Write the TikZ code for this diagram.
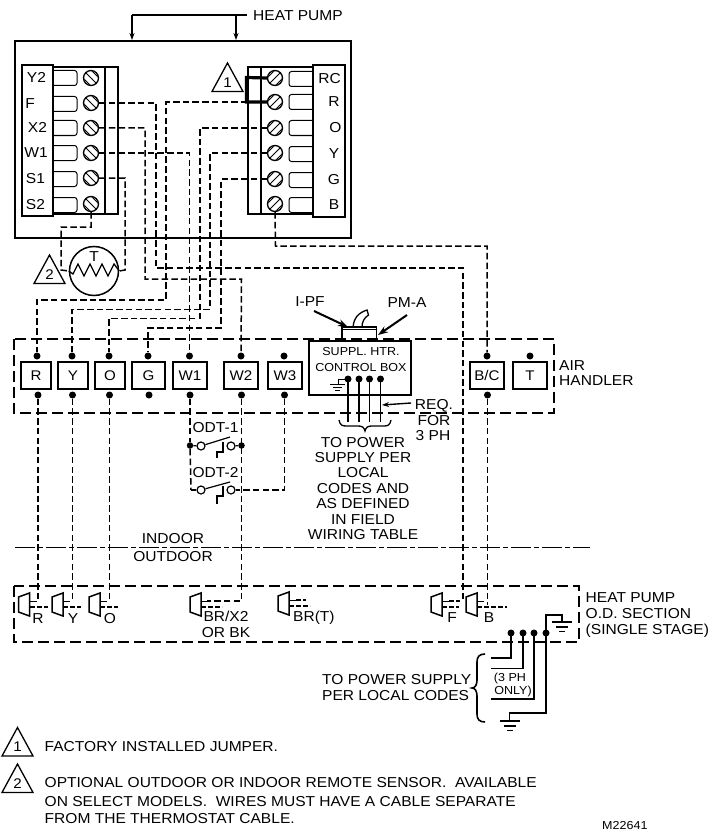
\documentclass[tikz,border=0pt]{standalone}
\usepackage{fontspec}
\setmainfont[FakeStretch=1.08]{Liberation Sans}
\usetikzlibrary{arrows.meta}
\tikzset{
  wire/.style={line width=1.5pt,dash pattern=on 6.5pt off 3.2pt},
  stub/.style={line width=1.2pt,dash pattern=on 5pt off 2pt},
  zone/.style={line width=1.5pt,dash pattern=on 11pt off 5pt},
  solidw/.style={line width=1.4pt},
  frame/.style={draw,line width=2pt},
  term/.style={draw,line width=1.9pt,inner sep=0pt,font=\fontsize{14}{15}\selectfont},
  dotn/.style={circle,fill=black,inner sep=0pt,minimum size=7pt},
  screwc/.style={circle,draw,line width=1.3pt,inner sep=0pt,minimum size=15pt},
  lbl/.style={inner sep=0pt,text height=9.7pt,text depth=0pt,font=\fontsize{14.4}{16}\selectfont},
  slbl/.style={inner sep=0pt,text height=8.2pt,text depth=0pt,font=\fontsize{11.6}{14}\selectfont},
  arr/.style={line width=1.2pt,-{Stealth[length=7pt,width=5pt]}},
  barr/.style={line width=2pt,-{Stealth[length=10pt,width=7pt]}},
  tabline/.style={line width=1pt,rounded corners=2.5pt},
}
\newcommand\screwL[3]{\node[screwc] (#1) at (#2,#3) {};
  \begin{scope}\clip (#2,#3) circle[radius=7];
  \foreach \d in {-4,0,4}{\draw[line width=0.9pt] (#2-8+\d,#3-8-\d) -- (#2+8+\d,#3+8-\d);}
  \end{scope}}
\newcommand\screwR[3]{\node[screwc] (#1) at (#2,#3) {};
  \begin{scope}\clip (#2,#3) circle[radius=7];
  \foreach \d in {-4,0,4}{\draw[line width=0.9pt] (#2-8+\d,#3+8+\d) -- (#2+8+\d,#3-8+\d);}
  \end{scope}}
\newcommand\gndsym[2]{\draw[line width=1.3pt] (#1-10,#2) -- (#1+10,#2);
  \draw[line width=1.3pt] (#1-6,#2+5) -- (#1+6,#2+5);
  \draw[line width=1.5pt] (#1-3,#2+9.5) -- (#1+3,#2+9.5);}
\newcommand\conn[3]{\coordinate (#1) at (#2,#3);
  \draw[line width=1.5pt] (#2,#3-11) -- (#2-11,#3-7) -- (#2-11,#3+8) -- (#2,#3+12) -- cycle;
  \draw[line width=1.1pt] (#2,#3-2.5) -- ++(7,0);}
\newcommand\tri[4]{\draw[line width=1.3pt] (#2,#3) -- (#2+15.5,#3+28.5) -- (#2-15.5,#3+28.5) -- cycle;
  \node[lbl,font=\fontsize{14}{15}\selectfont] (#1) at (#2,#3+19.5) {#4};}
\begin{document}
\begin{tikzpicture}[x=1pt,y=-1pt]
\useasboundingbox (0,0) rectangle (709,832);
% heat pump header
\node[lbl,anchor=west] (hp) at (253,15.5) {HEAT PUMP};
\coordinate (hpL) at (132,15);
\coordinate (hpR) at (236,15);
\coordinate (hpE) at (247,15);
% main frame
\node[frame,minimum width=336pt,minimum height=197pt,inner sep=0pt] (main) at (183,139.5) {};
\draw[line width=1.3pt] (hpL) -- (hpE);
\draw[arr] (hpL) -- (hpL |- main.north);
\draw[arr] (hpR) -- (hpR |- main.north);
% left terminal block
\draw[line width=1.3pt] (53,67) rectangle (118,214);
\draw[line width=1.3pt] (105,67) -- (105,214);
\draw[line width=2.2pt] (22,65) rectangle (53,216);
\foreach \n/\y/\dx in {Y2/78/36.5,F/104/30,X2/128/37.5,W1/153/36,S1/179/35.5,S2/205/35.5}{
  \draw[tabline] (53,\y-7.5) -- (77,\y-7.5) -- (77,\y+7.5) -- (53,\y+7.5);
  \node[lbl] (l\n) at (\dx,\y) {\n};
}
\screwL{sY2}{91}{78}
\screwL{sF}{91}{103}
\screwL{sX2}{91}{128}
\screwL{sW1}{91}{153}
\screwL{sS1}{91}{178}
\screwL{sS2}{91}{204}
% right terminal block
\draw[line width=1.3pt] (248,67) rectangle (313,214);
\draw[line width=1.3pt] (261,67) -- (261,214);
\draw[line width=2.2pt] (313,65) rectangle (345,217);
\foreach \n/\y/\dx in {RC/79/329.5,R/102/334,O/128/335.5,Y/154/334,G/180/334,B/205/334}{
  \draw[tabline] (313,\y-7.5) -- (289,\y-7.5) -- (289,\y+7.5) -- (313,\y+7.5);
  \node[lbl] (r\n) at (\dx,\y) {\n};
}
\screwR{sRC}{275}{78}
\screwR{sR}{275}{102}
\screwR{sO}{275}{128}
\screwR{sY}{275}{153}
\screwR{sG}{275}{179}
\screwR{sB}{275}{204}
% jumper
\draw[line width=3.2pt] (sRC.west) -- (246.5,77.5) -- (246.5,102) -- (sR.west);
\tri{ta}{227.5}{63}{1}
\tri{tb}{49.5}{255}{2}
% thermistor
\node[circle,draw,line width=1.5pt,minimum size=49pt,inner sep=0pt] (th) at (94,271) {};
\node[lbl] (thT) at (94,257) {T};
\draw[line width=1.3pt] (th.west) -- (73,274) -- (78,264) -- (84,276) -- (90,264) -- (96,276) -- (102,264) -- (108,276) -- (114,264) -- (th.east);
% air handler
\draw[zone] (14,339) rectangle (554,413);
\foreach \n/\t/\x/\w in {R/R/36/30,Y/Y/73/30,O/O/110/30,G/G/148.5/33,W1/W1/190/34,W2/W2/241/34,W3/W3/285/34,BC/B\slash C/487/34,T/T/530/34}{
  \node[term,minimum width=\w pt,minimum height=27pt] (t\n) at (\x,375.5) {\t};
}
\foreach \n/\x in {R/37,Y/72,O/109,G/148,W1/189.5,W2/241,W3/284,BC/487,T/530}{
  \node[dotn] (a\n) at (\x,356) {};
}
\foreach \n/\x in {R/38,Y/72.5,O/109.5,G/149,W1/190,W2/241.5,W3/284.5,BC/487.5}{
  \node[dotn] (b\n) at (\x,395) {};
}
% control box
\node[frame,minimum width=102pt,minimum height=54pt,inner sep=0pt] (cb) at (360,368) {};
\node[slbl] (cb1) at (361,351) {SUPPL. HTR.};
\node[slbl] (cb2) at (361,367) {CONTROL BOX};
\draw[line width=1.5pt] (342,327) rectangle (376.5,341);
\draw[line width=1pt] (342,329.5) -- (376.5,329.5);
\draw[line width=1.3pt] (353,327) .. controls (354,318) and (358,313) .. (367,310) -- (368.5,315) .. controls (364,318) and (362,322) .. (362,327);
\node[lbl] (ipf) at (310,302) {I-PF};
\node[lbl] (pma) at (407,303) {PM-A};
\coordinate (ipfA) at (348,327);
\coordinate (pmaA) at (378,335);
\draw[barr] (314,311) -- (ipfA);
\draw[barr] (407,315) -- (pmaA);
\foreach \n/\x in {1/348,2/359,3/369.5,4/380.5}{
  \node[dotn] (k\n) at (\x,379) {};
  \draw[line width=1.5pt] (k\n.center) -- (\x,422);
}
\draw[line width=1pt] (k1.center) -- (338,379) -- (338,384);
\draw[line width=1.2pt] (330,384.5) -- (345,384.5);
\draw[line width=1.2pt] (333,387.5) -- (342,387.5);
\draw[line width=1.2pt] (335,390.5) -- (340,390.5);
\draw[arr,line width=1.4pt] (411,403) -- (382,405);
\node[lbl] (req1) at (434,405) {REQ.};
\node[lbl] (req2) at (434,421) {FOR};
\node[lbl] (req3) at (433,436) {3 PH};
\draw[line width=1.3pt] (339,420) .. controls (340,425) and (342,426) .. (346,426) -- (358,426) .. controls (362,426) and (364,427) .. (365,431) .. controls (366,427) and (368,426) .. (372,426) -- (384,426) .. controls (388,426) and (390,425) .. (391,420);
\foreach \t/\y in {TO POWER/443,SUPPLY PER/458,LOCAL/473,CODES AND/489,AS DEFINED/504,IN FIELD/520,WIRING TABLE/535}{
  \node[lbl] at (363,\y) {\t};
}
\node[lbl,anchor=west] (ah1) at (559,366) {AIR};
\node[lbl,anchor=west] (ah2) at (559,381) {HANDLER};
% ODT
\node[lbl] (odt1) at (215.5,428) {ODT-1};
\node[lbl] (odt2) at (215.5,473) {ODT-2};
\node[dotn,minimum size=6.5pt] (o1L) at (190,445.5) {};
\node[dotn,minimum size=6.5pt] (o1R) at (241.5,445.5) {};
\coordinate (o2L) at (191,490);
\node[circle,draw,line width=1.2pt,inner sep=0pt,minimum size=8pt] (c1a) at (201,446) {};
\node[circle,draw,line width=1.2pt,inner sep=0pt,minimum size=8pt] (c1b) at (231,446) {};
\node[circle,draw,line width=1.2pt,inner sep=0pt,minimum size=8pt] (c2a) at (201,490) {};
\node[circle,draw,line width=1.2pt,inner sep=0pt,minimum size=8pt] (c2b) at (231,490) {};
\draw[line width=1.2pt] (o1L) -- (c1a);
\draw[line width=1.2pt] (c1b) -- (o1R);
\draw[line width=1.2pt] (c1a) -- (230,437);
\draw[line width=1.2pt] (c2a) -- (230,482);
\draw[line width=1.2pt] (223,442) -- (223,452) -- (217,452) -- (217,458);
\draw[line width=1.2pt] (223,486) -- (223,496) -- (217,496) -- (217,504);
\draw[wire] (o2L) -- (c2a);
% indoor outdoor
\draw[line width=1.5pt,dash pattern=on 20pt off 3pt on 5pt off 3pt] (15,547.5) -- (590,547.5);
\node[lbl] (ind) at (173,538.5) {INDOOR};
\node[lbl] (outd) at (173,556.5) {OUTDOOR};
% heat pump OD section
\draw[zone] (14,586) rectangle (579,642);
\conn{cR}{29.5}{604}
\conn{cY}{63}{604}
\conn{cO}{100}{604}
\conn{cX}{201}{604}
\conn{cT}{289}{603}
\conn{cF}{442}{604}
\conn{cB}{477}{604}
\draw[stub] (cR) ++(0,3) -- ++(18,0);
\draw[stub] (cY) ++(0,3) -- ++(18,0);
\draw[stub] (cO) ++(0,3) -- ++(18,0);
\draw[stub] (cX) ++(0,3) -- ++(21,0);
\draw[stub] (cT) ++(0,3) -- ++(21,0);
\draw[stub] (cT) ++(7,-3) -- ++(10,0);
\draw[stub] (cF) ++(0,3) -- ++(17,0);
\draw[stub] (cF) ++(7,-3) -- ++(11,0);
\draw[stub] (cB) ++(0,3) -- ++(30,0);
\node[lbl] (lR) at (38,619) {R};
\node[lbl] (lY) at (73,619) {Y};
\node[lbl] (lO) at (110,619) {O};
\node[lbl] (lX) at (226,617) {BR/X2};
\node[lbl] (lK) at (226,633) {OR BK};
\node[lbl,anchor=west] (lT) at (293,617) {BR(T)};
\node[lbl] (lF) at (452,618) {F};
\node[lbl] (lB) at (489,618) {B};
\foreach \t/\y in {HEAT PUMP/598,O.D. SECTION/614,(SINGLE STAGE)/630}{
  \node[lbl,anchor=west] at (585.5,\y) {\t};
}
% power dots
\node[dotn] (p1) at (511,633) {};
\node[dotn] (p2) at (523,633) {};
\node[dotn] (p3) at (534,633) {};
\node[dotn] (p4) at (546,633) {};
\draw[solidw] (p1.center) -- (511,658) -- (491,658);
\draw[solidw] (p2.center) -- (523,668.5) -- (491,668.5);
\draw[solidw] (p3.center) -- (534,699) -- (491,699);
\draw[solidw] (p4.center) -- (546,615) -- (562,615) -- (562,622);
\gndsym{562}{622}
\draw[solidw] (p4.center) -- (546,713) -- (509.5,713) -- (509.5,721);
\gndsym{510}{721}
\node[slbl] (ph1) at (510,677) {(3 PH};
\node[slbl] (ph2) at (513,690) {ONLY)};
\draw[line width=1.6pt] (485,654) .. controls (479,654) and (477,657) .. (477,662) -- (477,680) .. controls (477,685) and (475,688) .. (472,688) .. controls (475,688) and (477,691) .. (477,696) -- (477,714) .. controls (477,719) and (479,722) .. (485,722);
\node[lbl,anchor=west] (pw1) at (322,680) {TO POWER SUPPLY};
\node[lbl,anchor=west] (pw2) at (322,696) {PER LOCAL CODES};
% wires
\draw[wire] (sF.east) -- (156,103) -- (156,268) -- (463,268) -- (463,600);
\draw[wire] (sX2.east) -- (145,128) -- (145,279) -- (241.5,279) -- (aW2);
\draw[wire] (sW1.east) -- (189.5,153) -- (aW1);
\draw[wire] (sS1.east) -- (125,178) -- (125,270) -- (th.east);
\draw[wire] (sS2.south) -- (91,227) -- (61,227) -- (61,270) -- (th.west);
\draw[wire] (sR.west) -- (166,102) -- (166,300) -- (37,300) -- (aR);
\draw[wire] (sO.west) -- (200,128) -- (200,318.5) -- (109,318.5) -- (aO);
\draw[wire] (sY.west) -- (210,153) -- (210,309.5) -- (72,309.5) -- (aY);
\draw[wire] (sG.west) -- (221,179) -- (221,328) -- (148,328) -- (aG);
\draw[wire] (sB.south) -- (275.5,246) -- (487,246) -- (aBC);
\draw[wire] (bR) -- (38,602);
\draw[wire] (bY) -- (72.5,602);
\draw[wire] (bO) -- (109.5,602);
\draw[wire] (bW2) -- (241.5,601) -- (207,601);
\draw[wire] (bBC) -- (487.5,605);
\draw[wire] (bW1) -- (o1L);
\draw[wire] (o1L) -- (o2L);
\draw[wire] (bW3) -- (284.5,490) -- (c2b);
% legend
\tri{ta2}{17.5}{727.5}{1}
\tri{tb2}{17.5}{764}{2}
\node[lbl,anchor=west] (f1) at (44.5,747) {FACTORY INSTALLED JUMPER.};
\node[lbl,anchor=west] (f2) at (44.5,783) {OPTIONAL OUTDOOR OR INDOOR REMOTE SENSOR.\ \ AVAILABLE};
\node[lbl,anchor=west] (f3) at (44.5,801.5) {ON SELECT MODELS.\ \ WIRES MUST HAVE A CABLE SEPARATE};
\node[lbl,anchor=west] (f4) at (44.5,819) {FROM THE THERMOSTAT CABLE.};
\node[slbl,anchor=west] (m) at (602,825.5) {M22641};
\end{tikzpicture}
\end{document}
